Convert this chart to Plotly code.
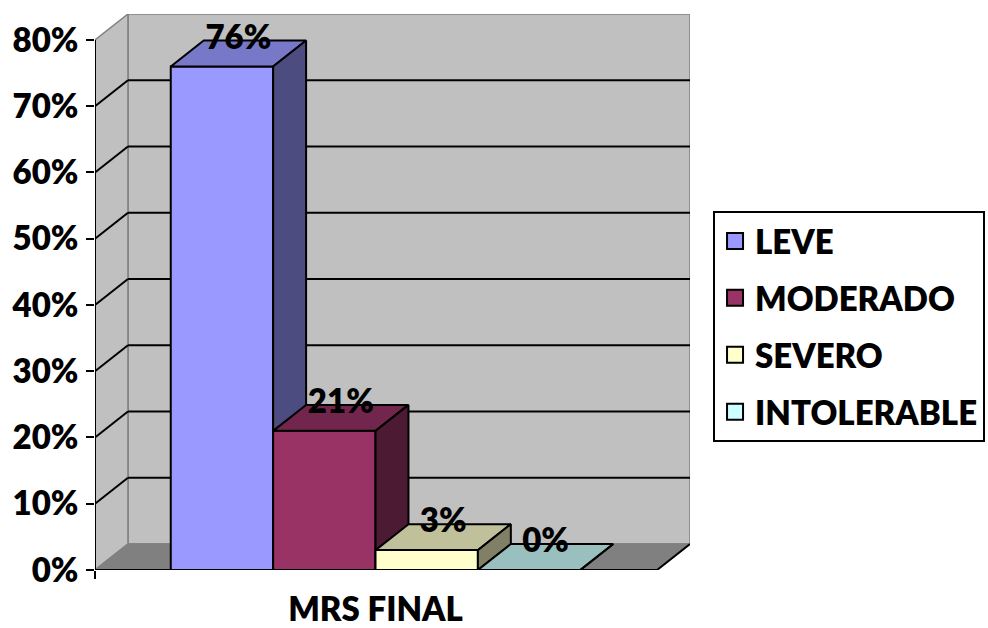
import plotly.graph_objects as go

# ---- data ----
categories = ["LEVE", "MODERADO", "SEVERO", "INTOLERABLE"]
values = [76, 21, 3, 0]
value_labels = ["76%", "21%", "3%", "0%"]
group_label = "MRS FINAL"
y_tick_values = [0, 10, 20, 30, 40, 50, 60, 70, 80]
y_tick_labels = ["0%", "10%", "20%", "30%", "40%", "50%", "60%", "70%", "80%"]

# ---- styling ----
front_colors = ["#9999FF", "#993366", "#FFFFCC", "#CCFFFF"]
top_colors = ["#7878C8", "#73264D", "#C0C09A", "#99BFBF"]
side_colors = ["#4C4C80", "#4D1A33", "#808066", "#668080"]
WALL = "#C0C0C0"
FLOOR = "#808080"
EDGE = "#808080"
FONT = dict(family="Lato", size=33, color="black", weight=800)

# oblique 3D geometry in data units
BAR_W = 1.0
DX, DY = 0.322, 3.92          # depth offset of the back plane
positions = [1, 2, 3, 4]
X0 = positions[0] - BAR_W / 2 - 0.74
X1 = positions[-1] + BAR_W / 2 + 0.75
YMAX = y_tick_values[-1]

fig = go.Figure()


def poly(xs, ys, fill, line_color, line_width=2):
    fig.add_trace(go.Scatter(
        x=list(xs) + [xs[0]], y=list(ys) + [ys[0]], mode="lines",
        fill="toself", fillcolor=fill,
        line=dict(color=line_color, width=line_width),
        hoverinfo="skip", showlegend=False))


def lines(segs, color, width):
    xs, ys = [], []
    for (xa, ya), (xb, yb) in segs:
        xs += [xa, xb, None]
        ys += [ya, yb, None]
    fig.add_trace(go.Scatter(x=xs, y=ys, mode="lines",
                             line=dict(color=color, width=width),
                             hoverinfo="skip", showlegend=False))


# walls and floor
poly([X0 + DX, X1 + DX, X1 + DX, X0 + DX], [DY, DY, YMAX + DY, YMAX + DY], WALL, EDGE, 1.5)
poly([X0, X0 + DX, X0 + DX, X0], [0, DY, YMAX + DY, YMAX], WALL, EDGE, 1.5)

# gridlines on back and side walls
grid = []
for v in y_tick_values[1:-1]:
    grid.append(((X0 + DX, v + DY), (X1 + DX, v + DY)))
    grid.append(((X0, v), (X0 + DX, v + DY)))
lines(grid, "black", 2)

poly([X0, X1, X1 + DX, X0 + DX], [0, 0, DY, DY], FLOOR, EDGE, 1.5)
lines([((X0, 0), (X1, 0)), ((X1, 0), (X1 + DX, DY)), ((X0, 0), (X0, YMAX))], "black", 2)

# 3D columns
for p, v, fc, tc, sc in zip(positions, values, front_colors, top_colors, side_colors):
    xl, xr = p - BAR_W / 2, p + BAR_W / 2
    poly([xl, xr, xr, xl], [0, 0, v, v], fc, "black")
    poly([xl, xr, xr + DX, xl + DX], [v, v, v + DY, v + DY], tc, "black")
    poly([xr, xr + DX, xr + DX, xr], [0, DY, v + DY, v], sc, "black")

# value labels on top of each column
fig.add_trace(go.Scatter(
    x=[p + DX / 2 for p in positions], y=[v + DY for v in values],
    mode="text", text=value_labels, textposition="middle center",
    textfont=FONT, hoverinfo="skip", showlegend=False))

# legend entries
for name, fc in zip(categories, front_colors):
    fig.add_trace(go.Scatter(
        x=[None], y=[None], mode="markers", name=name, legendgroup=name,
        marker=dict(symbol="square", size=20, color=fc,
                    line=dict(color="black", width=2))))

fig.update_layout(
    width=988, height=628,
    margin=dict(l=95, r=298, t=14, b=58, autoexpand=False),
    paper_bgcolor="white", plot_bgcolor="white",
    font=FONT,
    showlegend=True,
    legend=dict(xref="container", yref="container", x=0.7217, y=0.664,
                xanchor="left", yanchor="top",
                bgcolor="white", bordercolor="black", borderwidth=2,
                font=FONT, tracegroupgap=11, itemsizing="trace"),
)
fig.update_xaxes(range=[X0, X1 + DX], showgrid=False, zeroline=False,
                 showline=False, tickvals=[(positions[0] + positions[-1]) / 2],
                 ticktext=[group_label], ticks="", ticklabelstandoff=17,
                 tickfont=FONT, automargin=False,
                 minor=dict(tickvals=[X0], ticks="outside", ticklen=8,
                            tickwidth=2, tickcolor="black"))
fig.update_yaxes(range=[0, YMAX + DY], showgrid=False, zeroline=False,
                 showline=False, tickvals=y_tick_values, ticktext=y_tick_labels,
                 ticks="outside", ticklen=8, tickwidth=2, tickcolor="black",
                 ticklabelstandoff=1, tickfont=FONT, automargin=False)

fig.write_html("out.html")
